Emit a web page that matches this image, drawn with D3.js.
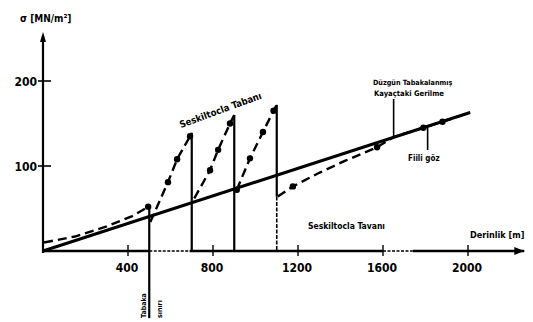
<!DOCTYPE html>
<html>
<head>
<meta charset="utf-8">
<script src="https://cdn.jsdelivr.net/npm/d3@7"></script>
<style>
  body { margin: 0; background: #fff; }
  svg { display: block; }
  .lbl { font-family: "DejaVu Sans Condensed", "DejaVu Sans", sans-serif; font-weight: bold; fill: #000; }
</style>
</head>
<body>
<script>
// tick values
var xTicks = [400, 800, 1200, 1600, 2000];
var yTicks = [100, 200];

// stress in uniformly bedded rock (solid line), depth [m] / sigma [MN/m2]
var bedDepth = [0, 2010];
var bedStress = [0, 163];

// actual stress (dashed line with dots), one list per segment
var fiiliA = [[5, 10], [150, 17], [300, 29], [420, 41], [495, 52]];
var fiiliB = [[505, 34], [588, 81], [631, 108], [692, 135], [700, 139]];
var fiiliC = [[712, 62], [786, 95], [824, 119], [880, 150], [900, 160]];
var fiiliD = [[912, 72], [974, 109], [1035, 140], [1085, 165], [1100, 172]];
var fiiliE = [[1105, 64], [1176, 76], [1300, 92], [1420, 106], [1572, 122],
              [1650, 134], [1790, 145], [1880, 152], [2010, 163]];
// points of the segments that carry a dot
var dotsA = [[495, 52]];
var dotsB = [[588, 81], [631, 108], [692, 135]];
var dotsC = [[786, 95], [824, 119], [880, 150]];
var dotsD = [[912, 72], [974, 109], [1035, 140], [1085, 165]];
var dotsE = [[1176, 76], [1572, 122], [1790, 145], [1880, 152]];

// layer boundaries: depth, top stress, bottom stress
var bounds = [[500, 53, -79], [700, 139, 0], [900, 160, 0], [1100, 172, 64]];

var w = 533;
var h = 322;

var svg = d3.select("body").append("svg")
            .attr("width", w)
            .attr("height", h);

var xScale = d3.scaleLinear().domain([0, 2000]).range([43, 468]);
var yScale = d3.scaleLinear().domain([0, 200]).range([251, 81]);

var line = d3.line()
             .x(function(d) { return xScale(d[0]); })
             .y(function(d) { return yScale(d[1]); });

// x axis (broken in two spots)
var axisSegs = [[0, 500, "solid"], [500, 690, "dot"], [690, 1600, "solid"],
                [1600, 1740, "dot"], [1740, 2265, "solid"]];
axisSegs.forEach(function(s) {
  svg.append("line")
     .attr("x1", xScale(s[0])).attr("x2", xScale(s[1]))
     .attr("y1", yScale(0)).attr("y2", yScale(0))
     .attr("stroke", "#000")
     .attr("stroke-width", s[2] == "solid" ? 2.6 : 1.6)
     .attr("stroke-dasharray", s[2] == "solid" ? null : "3,1.5");
});
svg.append("path")
   .attr("d", "M" + (xScale(2265) - 10) + "," + (yScale(0) - 4) + "L" + xScale(2265) + "," + yScale(0) +
              "L" + (xScale(2265) - 10) + "," + (yScale(0) + 4) + "Z")
   .attr("fill", "#000");

// x ticks crossing the axis
svg.selectAll(".xtick")
   .data(xTicks)
   .enter()
   .append("line")
   .attr("x1", function(d) { return xScale(d); })
   .attr("x2", function(d) { return xScale(d); })
   .attr("y1", yScale(0) - 6)
   .attr("y2", yScale(0) + 5)
   .attr("stroke", "#000")
   .attr("stroke-width", 1.4);

svg.selectAll(".xlab")
   .data(xTicks)
   .enter()
   .append("text")
   .attr("class", "lbl")
   .attr("x", function(d) { return xScale(d) - 1; })
   .attr("y", yScale(0) + 21)
   .attr("text-anchor", "middle")
   .style("font-size", "12px")
   .text(function(d) { return d; });

// y axis
svg.append("line")
   .attr("x1", xScale(0)).attr("x2", xScale(0))
   .attr("y1", yScale(0) + 2).attr("y2", 36)
   .attr("stroke", "#000")
   .attr("stroke-width", 2.2);
svg.append("path")
   .attr("d", "M" + (xScale(0) - 3) + ",42L" + xScale(0) + ",32L" + (xScale(0) + 3) + ",42Z")
   .attr("fill", "#000");

svg.selectAll(".ytick")
   .data(yTicks)
   .enter()
   .append("line")
   .attr("x1", xScale(0) - 5)
   .attr("x2", xScale(0) + 8)
   .attr("y1", function(d) { return yScale(d); })
   .attr("y2", function(d) { return yScale(d); })
   .attr("stroke", "#000")
   .attr("stroke-width", 1.6);

svg.selectAll(".ylab")
   .data(yTicks)
   .enter()
   .append("text")
   .attr("class", "lbl")
   .attr("x", xScale(0) - 6)
   .attr("y", function(d) { return yScale(d) + 5; })
   .attr("text-anchor", "end")
   .style("font-size", "12px")
   .text(function(d) { return d; });

svg.append("text")
   .attr("class", "lbl")
   .attr("x", 20)
   .attr("y", 22)
   .style("font-size", "10px")
   .text("σ [MN/m²]");

// solid line
svg.append("path")
   .attr("d", line(d3.zip(bedDepth, bedStress)))
   .attr("fill", "none")
   .attr("stroke", "#000")
   .attr("stroke-width", 3);

// layer boundaries
bounds.forEach(function(b) {
  svg.append("line")
     .attr("x1", xScale(b[0])).attr("x2", xScale(b[0]))
     .attr("y1", yScale(b[1])).attr("y2", yScale(b[2]))
     .attr("stroke", "#000")
     .attr("stroke-width", 2.2);
});
// lower part of last boundary is dotted
svg.append("line")
   .attr("x1", xScale(1100)).attr("x2", xScale(1100))
   .attr("y1", yScale(64)).attr("y2", yScale(0))
   .attr("stroke", "#000")
   .attr("stroke-width", 1.6)
   .attr("stroke-dasharray", "4,1.5");

// actual stress
[fiiliA, fiiliB, fiiliC, fiiliD, fiiliE].forEach(function(seg) {
  svg.append("path")
     .attr("d", line(seg))
     .attr("fill", "none")
     .attr("stroke", "#000")
     .attr("stroke-width", 2.4)
     .attr("stroke-dasharray", "9,5");
});
svg.selectAll(".dot")
   .data(dotsA.concat(dotsB, dotsC, dotsD, dotsE))
   .enter()
   .append("circle")
   .attr("cx", function(d) { return xScale(d[0]); })
   .attr("cy", function(d) { return yScale(d[1]); })
   .attr("r", 3.2)
   .attr("fill", "#000");

// labels
svg.append("text")
   .attr("class", "lbl")
   .attr("transform", "translate(181,128) rotate(-20)")
   .style("font-size", "9.5px")
   .text("Seskiltocla  Tabanı");

svg.append("text")
   .attr("class", "lbl")
   .attr("x", 308)
   .attr("y", 229)
   .style("font-size", "8.5px")
   .text("Seskiltocla   Tavanı");

svg.append("text")
   .attr("class", "lbl")
   .attr("x", 373)
   .attr("y", 85)
   .style("font-size", "7.2px")
   .text("Düzgün Tabakalanmış");
svg.append("text")
   .attr("class", "lbl")
   .attr("x", 374)
   .attr("y", 96)
   .style("font-size", "7.6px")
   .text("Kayaçtaki Gerilme");
svg.append("line")
   .attr("x1", xScale(1650)).attr("x2", xScale(1650))
   .attr("y1", 99).attr("y2", yScale(134))
   .attr("stroke", "#000")
   .attr("stroke-width", 1.6);

svg.append("text")
   .attr("class", "lbl")
   .attr("x", 408)
   .attr("y", 161)
   .style("font-size", "8px")
   .text("Fiili  göz");
svg.append("line")
   .attr("x1", xScale(1810)).attr("x2", xScale(1810))
   .attr("y1", yScale(146)).attr("y2", 150)
   .attr("stroke", "#000")
   .attr("stroke-width", 1.6);

svg.append("text")
   .attr("class", "lbl")
   .attr("x", 470)
   .attr("y", 238)
   .style("font-size", "9px")
   .text("Derinlik  [m]");

svg.append("text")
   .attr("class", "lbl")
   .attr("transform", "translate(146,318) rotate(-90)")
   .style("font-size", "7px")
   .text("Tabaka");
svg.append("text")
   .attr("class", "lbl")
   .attr("transform", "translate(162,318) rotate(-90)")
   .style("font-size", "7px")
   .text("sınırı");
</script>
</body>
</html>
